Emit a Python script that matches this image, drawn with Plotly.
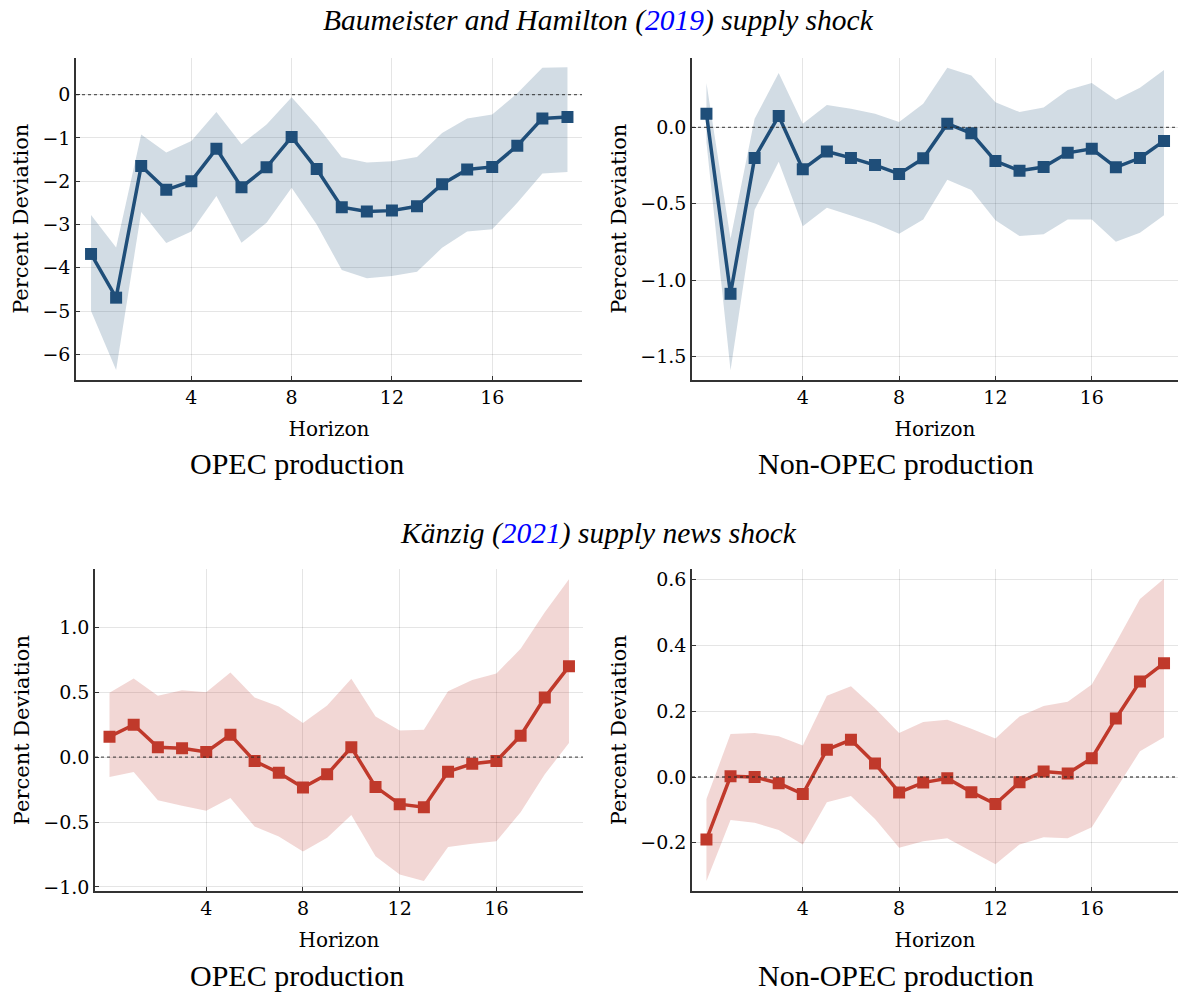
import plotly.graph_objects as go

horizon = list(range(20))

# Panel 1: Baumeister & Hamilton, OPEC production
bh_opec_mean = [-3.68, -4.69, -1.65, -2.20, -2.00, -1.25, -2.14, -1.68, -0.98, -1.72,
                -2.60, -2.70, -2.68, -2.58, -2.07, -1.73, -1.67, -1.18, -0.55, -0.52]
bh_opec_upper = [-2.78, -3.53, -0.92, -1.34, -1.07, -0.40, -1.15, -0.69, -0.06, -0.71,
                 -1.45, -1.57, -1.54, -1.44, -0.89, -0.55, -0.46, 0.03, 0.62, 0.63]
bh_opec_lower = [-5.00, -6.36, -2.71, -3.43, -3.16, -2.34, -3.42, -2.96, -2.15, -3.00,
                 -4.05, -4.24, -4.19, -4.09, -3.54, -3.16, -3.11, -2.50, -1.82, -1.79]

# Panel 2: Baumeister & Hamilton, Non-OPEC production
bh_non_mean = [0.089, -1.09, -0.20, 0.074, -0.275, -0.158, -0.20, -0.247, -0.305, -0.203,
               0.024, -0.039, -0.221, -0.284, -0.26, -0.167, -0.141, -0.262, -0.201, -0.089]
bh_non_upper = [0.29, -0.73, 0.056, 0.355, 0.024, 0.147, 0.121, 0.089, 0.035, 0.154,
                0.39, 0.34, 0.165, 0.10, 0.13, 0.245, 0.29, 0.18, 0.26, 0.375]
bh_non_lower = [-0.10, -1.59, -0.54, -0.225, -0.647, -0.526, -0.578, -0.63, -0.697, -0.604,
                -0.344, -0.41, -0.608, -0.712, -0.70, -0.604, -0.604, -0.749, -0.69, -0.576]

# Panel 3: Känzig, OPEC production
k_opec_mean = [0.158, 0.25, 0.076, 0.069, 0.04, 0.173, -0.03, -0.12, -0.234, -0.132,
               0.076, -0.229, -0.362, -0.385, -0.112, -0.051, -0.03, 0.166, 0.459, 0.70]
k_opec_upper = [0.497, 0.606, 0.474, 0.515, 0.50, 0.652, 0.459, 0.39, 0.263, 0.398,
                0.604, 0.314, 0.206, 0.211, 0.509, 0.594, 0.645, 0.836, 1.117, 1.372]
k_opec_lower = [-0.153, -0.115, -0.331, -0.375, -0.413, -0.314, -0.535, -0.611, -0.726, -0.621,
                -0.446, -0.764, -0.904, -0.955, -0.693, -0.667, -0.647, -0.425, -0.132, 0.11]

# Panel 4: Känzig, Non-OPEC production
k_non_mean = [-0.19, 0.002, 0.0, -0.019, -0.052, 0.083, 0.113, 0.041, -0.047, -0.017,
              -0.004, -0.046, -0.082, -0.016, 0.017, 0.011, 0.057, 0.178, 0.29, 0.346]
k_non_upper = [-0.067, 0.131, 0.134, 0.124, 0.096, 0.247, 0.276, 0.209, 0.134, 0.167,
               0.174, 0.147, 0.117, 0.184, 0.216, 0.229, 0.281, 0.408, 0.541, 0.603]
k_non_lower = [-0.316, -0.131, -0.139, -0.161, -0.205, -0.077, -0.058, -0.128, -0.215, -0.195,
               -0.186, -0.225, -0.265, -0.205, -0.183, -0.186, -0.153, -0.037, 0.078, 0.121]

x_ticks = [4, 8, 12, 16]
panel_titles = ["OPEC production", "Non-OPEC production", "OPEC production", "Non-OPEC production"]
row_titles = ["<i>Baumeister and Hamilton (<span style='color:#0000ff'>2019</span>) supply shock</i>",
              "<i>Känzig (<span style='color:#0000ff'>2021</span>) supply news shock</i>"]

BLUE = "#1f4e79"
RED = "#c0392b"
W, H = 1178, 1001
AXFONT = "DejaVu Serif"
TFONT = "Liberation Serif"

panels = [
    dict(mean=bh_opec_mean, up=bh_opec_upper, lo=bh_opec_lower, color=BLUE,
         px=(76, 582), py=(57, 382), yr=(-6.59, 0.855), yt=[0, -1, -2, -3, -4, -5, -6], fmt="d"),
    dict(mean=bh_non_mean, up=bh_non_upper, lo=bh_non_lower, color=BLUE,
         px=(692, 1178), py=(57, 382), yr=(-1.654, 0.457), yt=[0.0, -0.5, -1.0, -1.5], fmt=".1f"),
    dict(mean=k_opec_mean, up=k_opec_upper, lo=k_opec_lower, color=RED,
         px=(95, 583), py=(573, 897), yr=(-1.03, 1.447), yt=[1.0, 0.5, 0.0, -0.5, -1.0], fmt=".1f"),
    dict(mean=k_non_mean, up=k_non_upper, lo=k_non_lower, color=RED,
         px=(692, 1178), py=(573, 897), yr=(-0.346, 0.631), yt=[0.6, 0.4, 0.2, 0.0, -0.2], fmt=".1f"),
]


def rgba(hexc, a):
    hexc = hexc.lstrip("#")
    r, g, b = int(hexc[0:2], 16), int(hexc[2:4], 16), int(hexc[4:6], 16)
    return f"rgba({r},{g},{b},{a})"


fig = go.Figure()
layout = {}
annotations = []
shapes = []

for i, p in enumerate(panels):
    n = i + 1
    xa = "x" if n == 1 else f"x{n}"
    ya = "y" if n == 1 else f"y{n}"
    fig.add_trace(go.Scatter(x=horizon, y=p["lo"], mode="lines", line=dict(width=0),
                             hoverinfo="skip", showlegend=False, xaxis=xa, yaxis=ya))
    fig.add_trace(go.Scatter(x=horizon, y=p["up"], mode="lines", line=dict(width=0),
                             fill="tonexty", fillcolor=rgba(p["color"], 0.2),
                             hoverinfo="skip", showlegend=False, xaxis=xa, yaxis=ya))
    fig.add_trace(go.Scatter(x=horizon, y=p["mean"], mode="lines+markers",
                             line=dict(color=p["color"], width=3.5),
                             marker=dict(symbol="square", size=12, color=p["color"]),
                             showlegend=False, xaxis=xa, yaxis=ya))
    x0, x1 = p["px"]
    y0, y1 = p["py"]
    xkey = "xaxis" if n == 1 else f"xaxis{n}"
    ykey = "yaxis" if n == 1 else f"yaxis{n}"
    layout[xkey] = dict(domain=[x0 / W, x1 / W], anchor=ya, range=[-0.6, 19.58],
                        tickvals=x_ticks, ticks="inside", ticklen=4, tickcolor="#333",
                        showgrid=True, gridcolor="rgba(0,0,0,0.1)", gridwidth=1,
                        showline=True, linecolor="#333", linewidth=1.5, zeroline=False,
                        tickfont=dict(family=AXFONT, size=19, color="black"),
                        title=dict(text="Horizon", font=dict(family=AXFONT, size=20, color="black"),
                                   standoff=15))
    layout[ykey] = dict(domain=[1 - y1 / H, 1 - y0 / H], anchor=xa, range=list(p["yr"]),
                        tickvals=p["yt"], tickformat=p["fmt"], ticks="inside", ticklen=4,
                        tickcolor="#333",
                        showgrid=True, gridcolor="rgba(0,0,0,0.1)", gridwidth=1,
                        showline=True, linecolor="#333", linewidth=1.5, zeroline=False,
                        tickfont=dict(family=AXFONT, size=19, color="black"),
                        title=dict(text="Percent Deviation",
                                   font=dict(family=AXFONT, size=21, color="black"), standoff=8))
    shapes.append(dict(type="line", xref=f"{xa} domain", yref=ya, x0=0, x1=1, y0=0, y1=0,
                       line=dict(color="rgba(40,40,40,0.75)", width=1.3, dash="dot"), layer="above"))

# panel subtitles
sub_pos = [(297, 466), (896, 466), (297, 982), (896, 982)]
for t, (sx, sy) in zip(panel_titles, sub_pos):
    annotations.append(dict(text=t, x=sx / W, y=1 - sy / H, xref="paper", yref="paper",
                            xanchor="center", yanchor="middle", showarrow=False,
                            font=dict(family=TFONT, size=30, color="black")))
for t, sy in zip(row_titles, [20, 537]):
    annotations.append(dict(text=t, x=598 / W, y=1 - sy / H, xref="paper", yref="paper",
                            xanchor="center", yanchor="middle", showarrow=False,
                            font=dict(family=TFONT, size=29.5, color="black")))

fig.update_layout(width=W, height=H, margin=dict(l=0, r=0, t=0, b=0),
                  plot_bgcolor="white", paper_bgcolor="white",
                  font=dict(family=AXFONT, color="black"),
                  annotations=annotations, shapes=shapes, **layout)
fig.write_html("out.html")
